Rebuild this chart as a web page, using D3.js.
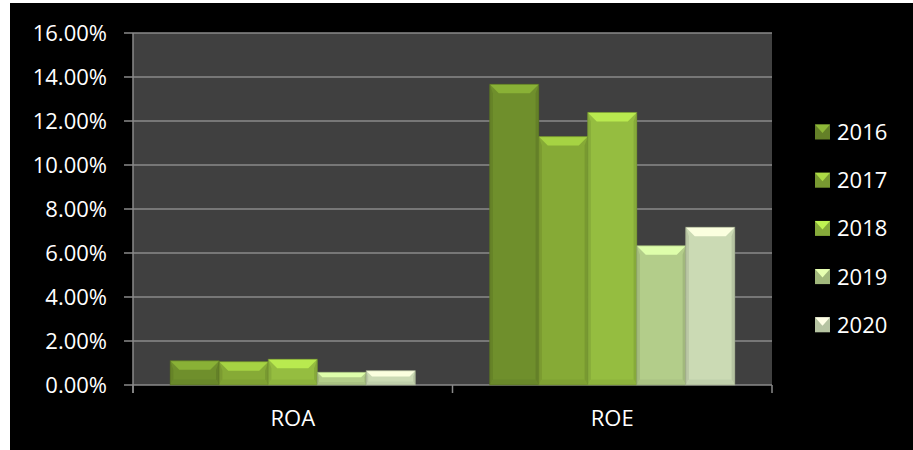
<!DOCTYPE html>
<html>
<head>
<meta charset="utf-8">
<script src="https://cdn.jsdelivr.net/npm/d3@7"></script>
<style>
  body { margin: 0; background: #fff; }
  text { font-family: "Open Sans", "Liberation Sans", sans-serif; fill: #fff; }
</style>
</head>
<body>
<svg id="chart" width="913" height="450"></svg>
<script>
// Data
const categories = ['ROA', 'ROE'];
const years = ['2016', '2017', '2018', '2019', '2020'];
const values = {
    '2016': [0.0110, 0.1367],
    '2017': [0.0106, 0.1129],
    '2018': [0.0117, 0.1239],
    '2019': [0.0058, 0.0633],
    '2020': [0.0065, 0.0717]
};
const yTicks = [0, 0.02, 0.04, 0.06, 0.08, 0.10, 0.12, 0.14, 0.16];

const yearColors = new Map([
    ['2016', '#6f8f2c'],
    ['2017', '#86aa36'],
    ['2018', '#95bd40'],
    ['2019', '#b3cd8a'],
    ['2020', '#cbdab4']
]);

let plot = {left: 133, right: 772, top: 33, bottom: 385};

let svg = d3.select('#chart');

// black card behind the chart
svg.append('rect')
    .attr('x', 10).attr('y', 3)
    .attr('width', 903).attr('height', 447)
    .attr('fill', '#000');

let x0 = d3.scaleBand().domain(categories).range([plot.left, plot.right]);
let x1 = d3.scaleBand().domain(years).range([0, x0.bandwidth()]).paddingOuter(0.76);
let y = d3.scaleLinear().domain([0, 0.16]).range([plot.bottom, plot.top]);

// plot area
svg.append('rect')
    .attr('x', plot.left).attr('y', plot.top)
    .attr('width', plot.right - plot.left).attr('height', plot.bottom - plot.top)
    .attr('fill', '#404040');

// gridlines
svg.append('g').selectAll('line')
    .data(yTicks)
    .enter().append('line')
    .attr('x1', plot.left - 9).attr('x2', plot.right)
    .attr('y1', d => y(d)).attr('y2', d => y(d))
    .attr('stroke', '#8a8a8a').attr('stroke-width', 1.5);

// y axis line
svg.append('line')
    .attr('x1', plot.left).attr('x2', plot.left)
    .attr('y1', plot.top).attr('y2', plot.bottom + 8)
    .attr('stroke', '#8a8a8a').attr('stroke-width', 1.5);

// x tick marks
let xTickPos = [plot.left].concat(categories.map(c => x0(c) + x0.bandwidth()));
svg.append('g').selectAll('line')
    .data(xTickPos)
    .enter().append('line')
    .attr('x1', d => d).attr('x2', d => d)
    .attr('y1', plot.bottom).attr('y2', plot.bottom + 8)
    .attr('stroke', '#8a8a8a').attr('stroke-width', 1.5);

// y tick labels
svg.append('g').selectAll('text')
    .data(yTicks)
    .enter().append('text')
    .attr('x', 107)
    .attr('y', d => y(d))
    .attr('dy', '0.36em')
    .attr('text-anchor', 'end')
    .style('font-size', '22px')
    .text(d => d3.format('.2%')(d));

// category labels
svg.append('g').selectAll('text')
    .data(categories)
    .enter().append('text')
    .attr('x', d => x0(d) + x0.bandwidth() / 2)
    .attr('y', 418)
    .attr('dy', '0.36em')
    .attr('text-anchor', 'middle')
    .style('font-size', '22px')
    .text(d => d);

// beveled bar drawing
const drawBevelBar = (g, bx, by, bw, bh, color) => {
    let c = d3.color(color);
    let b = Math.min(9, bh / 2.5, bw / 4);
    g.append('rect')
        .attr('x', bx).attr('y', by).attr('width', bw).attr('height', bh)
        .attr('fill', c.formatHex());
    // top bevel (light)
    g.append('polygon')
        .attr('points', [[bx, by], [bx + bw, by], [bx + bw - b, by + b], [bx + b, by + b]].map(p => p.join(',')).join(' '))
        .attr('fill', c.brighter(0.6).formatHex());
    // left bevel
    g.append('polygon')
        .attr('points', [[bx, by], [bx + b * 0.35, by + b], [bx + b * 0.35, by + bh - b * 0.6], [bx, by + bh]].map(p => p.join(',')).join(' '))
        .attr('fill', c.darker(0.25).formatHex());
    // right bevel
    g.append('polygon')
        .attr('points', [[bx + bw, by], [bx + bw - b * 0.35, by + b], [bx + bw - b * 0.35, by + bh - b * 0.6], [bx + bw, by + bh]].map(p => p.join(',')).join(' '))
        .attr('fill', c.darker(0.3).formatHex());
    // bottom bevel
    g.append('polygon')
        .attr('points', [[bx, by + bh], [bx + b * 0.35, by + bh - b * 0.6], [bx + bw - b * 0.35, by + bh - b * 0.6], [bx + bw, by + bh]].map(p => p.join(',')).join(' '))
        .attr('fill', c.darker(0.15).formatHex());
    g.append('rect')
        .attr('x', bx).attr('y', by).attr('width', bw).attr('height', bh)
        .attr('fill', 'none')
        .attr('stroke', c.darker(0.8).formatHex())
        .attr('stroke-opacity', 0.6)
        .attr('stroke-width', 1);
};

let bars = svg.append('g');
years.forEach(yr => {
    categories.forEach((cat, i) => {
        let v = values[yr][i];
        let bx = x0(cat) + x1(yr);
        drawBevelBar(bars, bx, y(v), x1.bandwidth(), y(0) - y(v), yearColors.get(yr));
    });
});

// legend
let legend = svg.append('g');
years.forEach((yr, i) => {
    let ly = 132 + i * 48.2;
    let c = d3.color(yearColors.get(yr));
    legend.append('rect')
        .attr('x', 815).attr('y', ly - 7.5).attr('width', 15).attr('height', 15)
        .attr('fill', c.darker(0.3).formatHex());
    legend.append('polygon')
        .attr('points', [[815, ly - 7.5], [830, ly - 7.5], [822.5, ly + 1]].map(p => p.join(',')).join(' '))
        .attr('fill', c.brighter(0.7).formatHex());
    legend.append('text')
        .attr('x', 837).attr('y', ly)
        .attr('dy', '0.36em')
        .style('font-size', '22px')
        .text(yr);
});
</script>
</body>
</html>
